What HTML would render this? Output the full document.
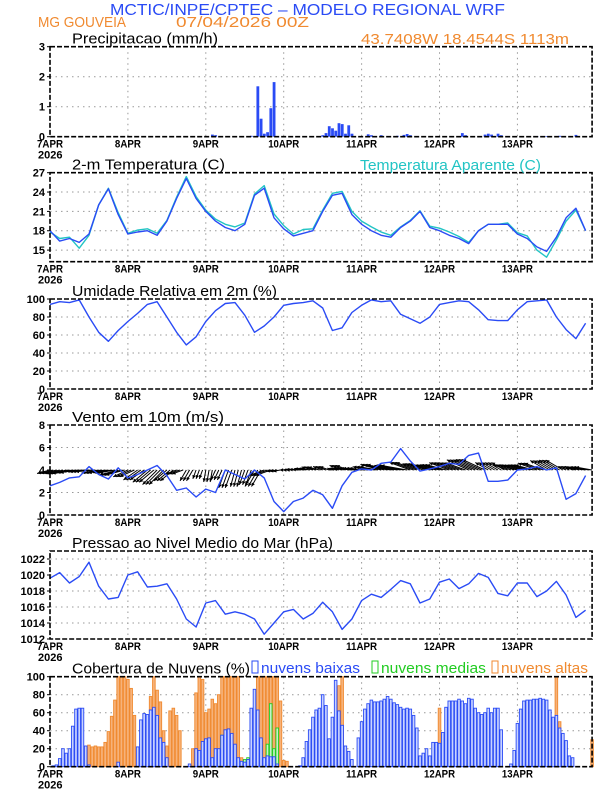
<!DOCTYPE html>
<html><head><meta charset="utf-8"><style>
html,body{margin:0;padding:0;background:#fff;}
svg{display:block;font-family:"Liberation Sans",sans-serif;}
</style></head><body>
<svg id="c" width="612" height="792" viewBox="0 0 612 792" xmlns="http://www.w3.org/2000/svg">
<text x="110" y="15" font-size="16" fill="#2a4bf5" textLength="395" lengthAdjust="spacingAndGlyphs">MCTIC/INPE/CPTEC – MODELO REGIONAL WRF</text>
<text x="38" y="27" font-size="15" fill="#f08a30" textLength="88" lengthAdjust="spacingAndGlyphs">MG GOUVEIA</text>
<text x="176" y="27" font-size="15" fill="#f08a30" textLength="133" lengthAdjust="spacingAndGlyphs">07/04/2026 00Z</text>
<text x="361" y="44" font-size="15" fill="#f08a30" textLength="208" lengthAdjust="spacingAndGlyphs">43.7408W 18.4544S 1113m</text>
<g id="plots"></g>
</svg>
<script>
// ---- data ----
const days = ["7APR","8APR","9APR","10APR","11APR","12APR","13APR"];
const precipHours = [50,51,62,64,65,66,67,68,69,84,85,86,87,88,89,90,91,92,93,98,99,102,107,109,110,111,127,128,134,135,136,138,139,150,153,157,162];
const precipValues = [0.07,0.05,0.03,1.68,0.6,0.1,0.15,0.95,1.82,0.05,0.12,0.35,0.28,0.2,0.45,0.42,0.1,0.38,0.1,0.08,0.05,0.05,0.03,0.06,0.09,0.05,0.12,0.05,0.07,0.1,0.07,0.1,0.05,0.02,0.02,0.03,0.06];
const tempValues = [18,16.4,16.8,16.2,17.5,22,24.5,20.5,17.5,17.8,18,17.3,19.5,23,26.1,23,21,19.5,18.5,18,19,23.5,24.6,20,18.3,17.2,17.6,18,21,23.5,23.8,20.5,19,18,17.3,17,18.5,19.5,21,18.5,18,17.3,16.8,16,18,19,19,19,17.5,16.8,15.5,14.8,17,20,21.5,18];
const appTempValues = [17.8,16.8,17,15.3,17.3,22,24.6,20.8,17.6,18.1,18.3,17.6,19.6,23.2,26.4,23.3,21.2,19.8,19,18.6,19.2,23.7,25,20.6,18.8,17.5,18.2,18.3,21.2,23.8,24.1,21,19.5,18.6,17.8,17.3,18.6,19.6,21.1,18.7,18.4,17.8,17.1,16.2,18,19,19,19.2,17.7,17.2,15,13.9,16.6,19.5,21.2,18];
const humidValues = [94,97,96,99,80,63,53,65,75,84,94,97,80,63,49,58,75,87,95,96,82,63,70,80,93,95,96,98,90,65,68,85,93,99,97,98,83,78,73,80,94,96,98,97,88,77,76,76,88,97,98,99,80,66,56,73];
const windSpeed = [2.6,2.9,3.3,3.4,4.3,3.6,3.2,4.2,3.3,3.6,4.0,4.4,3.5,2.2,2.4,1.6,2.3,2.0,4.0,3.6,3.2,4.0,3.3,1.2,0.3,1.2,1.5,2.2,1.8,0.6,2.6,3.8,4.1,4.0,4.6,4.7,5.9,4.8,3.9,4.1,4.3,4.6,4.5,5.3,5.5,3.0,3.0,3.1,4.0,4.1,4.3,4.0,4.2,1.4,1.9,3.5];
const windDir = [195,195,190,185,185,190,190,195,205,215,220,225,220,200,240,250,260,245,250,255,250,240,200,190,180,175,170,165,160,160,160,175,175,170,165,170,170,160,160,165,165,160,160,155,155,150,150,160,165,165,160,150,150,155,165,170];
const pressValues = [1019.6,1020.3,1019.0,1019.8,1021.6,1018.6,1017.0,1017.2,1020.0,1020.4,1018.5,1018.6,1018.9,1017.0,1014.5,1013.5,1016.5,1016.8,1015.1,1015.4,1015.1,1014.5,1012.6,1014.0,1015.4,1015.7,1014.5,1015.2,1016.6,1015.4,1013.2,1014.5,1016.8,1017.6,1017.2,1018.2,1019.3,1018.9,1016.5,1017.0,1019.1,1019.5,1018.3,1018.9,1020.2,1019.7,1017.7,1017.4,1019.0,1019.0,1017.3,1018.0,1019.2,1017.5,1014.7,1015.6];
const cloudLow = [0,1,2,9,20,15,20,45,64,65, 65,23,2,0,0,0,0,0,0,0, 0,5,0,0,0,0,0,22,52,59, 58,63,66,57,32,27,10,0,0,0, 0,0,0,3,0,20,18,28,31,32, 10,20,20,35,41,42,37,25,10,6, 5,8,65,86,63,32,10,12,11,11, 3,0,0,0,0,0,0,1,10,28, 41,55,63,65,80,68,31,55,96,62, 46,23,17,8,0,32,50,64,70,74, 72,72,73,75,78,75,71,69,66,64, 65,64,57,43,12,15,20,12,27,27, 26,38,66,73,73,73,75,73,70,76, 75,65,60,58,60,65,60,65,65,41, 0,0,3,18,48,64,73,74,74,75, 75,76,75,74,63,55,57,43,37,29, 12,10,0,0,0,0,0,0];
const cloudMid = [0,0,0,0,0,0,0,0,0,0, 0,0,0,0,0,0,0,0,0,0, 0,0,0,0,0,0,0,0,0,0, 0,0,0,0,0,0,0,0,0,0, 0,0,0,0,0,0,0,0,0,0, 0,5,13,35,30,20,0,0,0,0, 8,10,20,45,30,23,5,25,70,20, 43,0,0,0,0,0,0,0,0,0, 0,0,0,0,0,0,3,0,0,0, 0,10,0,0,0,0,0,0,0,0, 0,0,0,0,0,0,0,0,0,0, 0,0,0,0,0,0,0,0,0,0, 0,0,0,0,0,0,0,0,0,0, 0,0,0,0,0,0,0,0,0,0, 0,0,0,0,0,0,0,0,0,0, 0,0,0,0,0,0,0,0,0,0, 0,0,0,0,0,0,0,0];
const cloudHigh = [0,0,0,0,0,0,0,0,4,10, 22,20,24,22,23,22,22,27,39,56, 74,100,100,100,97,87,57,20,25,0, 45,78,100,85,72,40,23,62,65,57, 40,0,0,0,20,82,100,97,60,64, 75,70,80,100,100,100,100,100,100,10, 5,3,30,53,100,100,100,100,100,100, 100,73,7,6,0,0,0,0,0,0, 0,0,0,0,0,0,0,0,35,90, 100,20,0,0,0,0,0,0,0,0, 0,0,0,0,0,0,0,0,0,0, 0,0,0,0,0,0,0,0,0,10, 65,0,0,0,0,0,0,0,0,0, 0,0,0,0,0,0,0,0,0,0, 0,0,0,0,0,0,0,0,0,0, 0,0,0,0,0,8,100,50,27,0, 0,0,0,0,0,0,0,30];

// ---- layout ----
const NS="http://www.w3.org/2000/svg";
const root=document.getElementById('plots');
const X0=50, PXH=3.246, HMAX=167;
const xh=h=>X0+h*PXH;
const BLUE="#2a4bf5", CYAN="#22c4c4", ORANGE="#f08a30", GREEN="#22cc22";
function el(tag,attrs,parent){const e=document.createElementNS(NS,tag);for(const k in attrs)e.setAttribute(k,attrs[k]);(parent||root).appendChild(e);return e;}
function txt(s,attrs,parent){const e=el('text',attrs,parent);e.textContent=s;return e;}

function panel(name,top,bot,min,max,ticks,title,titleLen,first){
  const g=el('g',{});
  
  
  const ys=v=>bot-(v-min)/(max-min)*(bot-top);
  for(let d=1;d<days.length;d++){
    const l=el('line',{x1:xh(d*24),x2:xh(d*24),y1:top,y2:bot,stroke:"#999","stroke-width":1,"stroke-dasharray":"1.5,4"},g);
    
    
  }
  ticks.forEach(t=>{
    if(t>min&&t<max){
      const l=el('line',{x1:X0,x2:xh(HMAX),y1:ys(t),y2:ys(t),stroke:"#999","stroke-width":1,"stroke-dasharray":"1.5,4"},g);
      
      
    }
    const tl=txt(String(t),{x:45,y:ys(t)+4,"font-size":11,"font-weight":"bold","text-anchor":"end",fill:"#000"},g);
    
    
    el('line',{x1:X0-3,x2:X0,y1:ys(t),y2:ys(t),stroke:"#000"},g);
  });
  days.forEach((d,i)=>{
    const t=txt(d,{x:xh(i*24),y:bot+11,"font-size":11,"font-weight":"bold","text-anchor":"middle",fill:"#000",textLength:d.length>4?31:26,lengthAdjust:"spacingAndGlyphs"},g);
    
    
  });
  if(first){
    const y=txt("2026",{x:38,y:bot+22,"font-size":11,"font-weight":"bold",fill:"#000"},g);
    
    
  }
  const tt=txt(title,{x:72,y:top-3,"font-size":15,fill:"#000",textLength:titleLen,lengthAdjust:"spacingAndGlyphs"},g);
  
  
  const dataG=el('g',{},g);
  const fr=el('rect',{x:X0,y:top,width:xh(HMAX)-X0,height:bot-top,fill:"none",stroke:"#000","stroke-width":1.6,"stroke-dasharray":"5,2"},g);
  
  
  return {g:dataG,ys};
}
function line(p,vals,color,name){
  const pts=vals.map((v,i)=>xh(i*3).toFixed(1)+","+p.ys(v).toFixed(1)).join(" ");
  const l=el('polyline',{points:pts,fill:"none",stroke:color,"stroke-width":1.4,"stroke-linejoin":"round"},p.g);
  
  
}

// precip
const p1=panel('precipitation',46.7,136.7,0,3,[0,1,2,3],"Precipitacao (mm/h)",146,true);
precipHours.forEach((h,i)=>{
  const y=p1.ys(precipValues[i]);
  const b=el('rect',{x:xh(h)-1.3,y:y,width:2.8,height:p1.ys(0)-y,fill:BLUE},p1.g);
  
  
});

// temperature
const p2=panel('temperature',172.7,261.7,13.2,27,[15,18,21,24,27],"2-m Temperatura (C)",153,true);
const at=txt("Temperatura Aparente (C)",{x:360,y:170,"font-size":15,fill:CYAN,textLength:181,lengthAdjust:"spacingAndGlyphs"});


line(p2,appTempValues,CYAN,'apparent-temperature-line');
line(p2,tempValues,BLUE,'temperature-line');

// humidity
const p3=panel('humidity',299,389,0,100,[0,20,40,60,80,100],"Umidade Relativa em 2m (%)",205,true);
line(p3,humidValues,BLUE,'humidity-line');

// wind
const p4=panel('wind',425,515,0,8,[0,2,4,6,8],"Vento em 10m (m/s)",152,true);
const wy=p4.ys(4);
windSpeed.forEach((s,i)=>{
  for(let k=0;k<3;k++){
    const h=i*3+k; if(h>HMAX) continue;
    const a=windDir[i]*Math.PI/180, L=3+s*4;
    const x1=xh(h), x2=x1+Math.cos(a)*L, y2=wy-Math.sin(a)*L;
    const ar=el('g',{},p4.g);
    
    
    el('line',{x1:x1,y1:wy,x2:x2,y2:y2,stroke:"#000","stroke-width":1},ar);
    const hx1=x2-Math.cos(a-0.45)*4, hy1=y2+Math.sin(a-0.45)*4, hx2=x2-Math.cos(a+0.45)*4, hy2=y2+Math.sin(a+0.45)*4;
    el('polygon',{points:`${x2},${y2} ${hx1},${hy1} ${hx2},${hy2}`,fill:"#000"},ar);
  }
});
line(p4,windSpeed,BLUE,'wind-speed-line');

// pressure
const p5=panel('pressure',551,639,1012,1023,[1012,1014,1016,1018,1020,1022],"Pressao ao Nivel Medio do Mar (hPa)",261,true);
line(p5,pressValues,BLUE,'pressure-line');

// clouds
const p6=panel('clouds',676.7,766.7,0,100,[0,20,40,60,80,100],"Cobertura de Nuvens (%)",178,true);
function bars(vals,stroke,fill,name){
  vals.forEach((v,h)=>{
    if(v<=0) return;
    const y=p6.ys(v);
    const b=el('rect',{x:xh(h)-1.3,y:y,width:2.6,height:p6.ys(0)-y,fill:fill,stroke:stroke,"stroke-width":0.9},p6.g);
    
    
  });
}
bars(cloudHigh,ORANGE,"#f6b27a",'high-cloud-bar');
bars(cloudMid,GREEN,"#c8f0c8",'mid-cloud-bar');
bars(cloudLow,BLUE,"#c9d3ff",'low-cloud-bar');
const legs=[["nuvens baixas",BLUE,252,108,'legend-low-clouds'],["nuvens medias",GREEN,372,114,'legend-mid-clouds'],["nuvens altas",ORANGE,492,96,'legend-high-clouds']];
legs.forEach(L=>{
  const g=el('g',{});
  
  
  el('rect',{x:L[2],y:661,width:6,height:12,fill:"none",stroke:L[1],"stroke-width":1},g);
  txt(L[0],{x:L[2]+9,y:673,"font-size":15,fill:L[1],textLength:L[3]-9,lengthAdjust:"spacingAndGlyphs"},g);
});
</script>
</body></html>
